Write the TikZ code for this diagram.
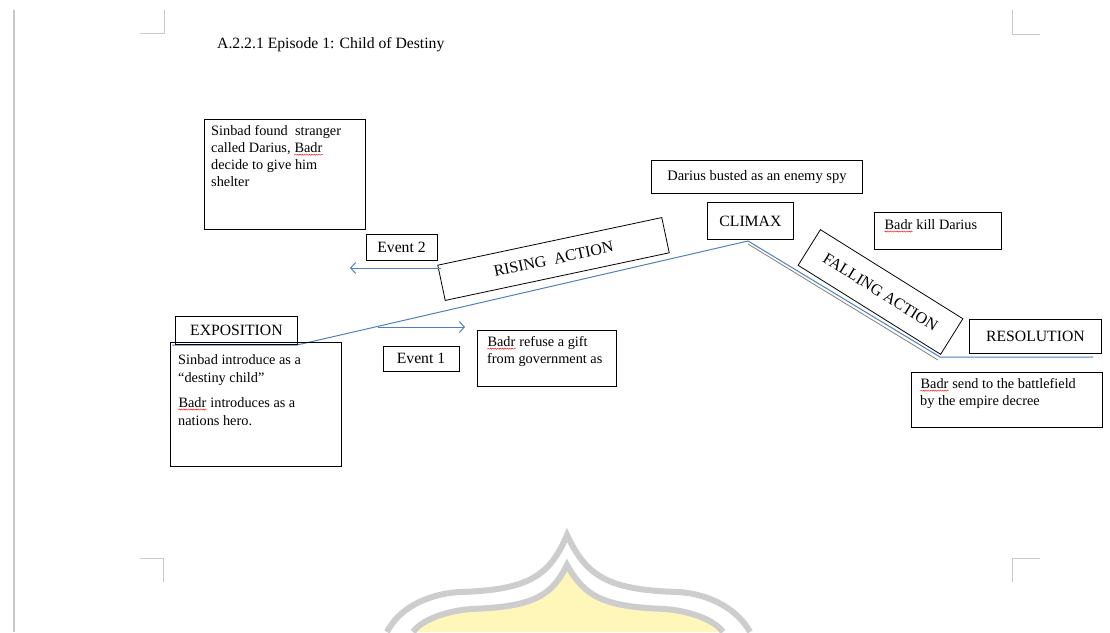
\documentclass[tikz,border=0pt]{standalone}
\usepackage{fontspec}
\setmainfont{Liberation Serif}
\usetikzlibrary{arrows.meta,decorations.pathmorphing}
\definecolor{plotblue}{RGB}{79,129,189}
\definecolor{wmgray}{RGB}{205,205,205}
\definecolor{wmyellow}{RGB}{255,246,185}
\definecolor{markgray}{RGB}{200,200,200}
\newcommand\spl[1]{\tikz[baseline=(spellw.base),x=1cm,y=1cm]{\node[inner sep=0pt,align=left](spellw){#1};\draw[red,line width=0.4pt,decorate,decoration={snake,amplitude=0.6pt,segment length=2.4pt}] ([yshift=-2.4pt]spellw.base west) -- ([yshift=-2.4pt]spellw.base east);}}
\begin{document}
\begin{tikzpicture}[x=1pt,y=-1pt,
  box/.style={draw=black, line width=0.8pt, inner sep=0pt},
  txt/.style={inner sep=0pt, align=left, font=\fontsize{14.3}{17}\selectfont},
  lbl/.style={font=\fontsize{15.7}{18}\selectfont},
  plot/.style={draw=plotblue, line width=1pt},
  evarrow/.style={draw=plotblue, line width=1pt, -{Straight Barb[length=5pt,width=11pt]}},
  pagemark/.style={draw=markgray, line width=0.8pt},
  wmline/.style={draw=wmgray, line width=6pt}]
\useasboundingbox (0,0) rectangle (1110,632);
\fill[white] (0,0) rectangle (1110,632);

% page marks
\draw[pagemark, line width=1.5pt] (14,10) -- (14,632);
\draw[pagemark] (140,33) -- (164,33) -- (164,10);
\draw[pagemark] (1012,10) -- (1012,34) -- (1040,34);
\draw[pagemark] (140,558) -- (163,558) -- (163,582);
\draw[pagemark] (1040,558) -- (1012,558) -- (1012,582);

% watermark
\fill[wmyellow] (567,565) .. controls (552,595) and (535,607) .. (470,609)
  .. controls (440,612) and (420,622) .. (413,632) -- (723,632)
  .. controls (716,622) and (696,612) .. (666,609)
  .. controls (601,607) and (584,595) .. (567,565) -- cycle;
\draw[wmline] (413,632) .. controls (420,622) and (440,612) .. (470,609)
  .. controls (535,607) and (552,595) .. (567,565)
  .. controls (584,595) and (601,607) .. (666,609)
  .. controls (696,612) and (716,622) .. (723,632);
\draw[wmline] (387,632) .. controls (398,610) and (425,594) .. (460,592)
  .. controls (530,590) and (550,575) .. (567,535)
  .. controls (586,575) and (606,590) .. (678,592)
  .. controls (711,594) and (738,610) .. (750,632);

% title
\node[anchor=west, inner sep=0pt, font=\fontsize{15.7}{18}\selectfont] (title) at (217,45) {A.2.2.1 Episode 1: Child of Destiny};

% plot line
\coordinate (p0) at (172,345);
\coordinate (p1) at (297,345);
\coordinate (peak) at (748,241);
\coordinate (p3) at (940,357);
\coordinate (p4) at (1093,357);
\draw[plot] (p0) -- (p1) -- (peak) -- (p3) -- (p4);
\draw[draw=gray, line width=0.8pt] ([shift={(0,3)}]peak) -- ([shift={(-2,3)}]p3);

% boxes
\node[box, minimum width=161, minimum height=110, anchor=north west] (sbox) at (204,119) {};
\node[txt, anchor=north west] (stxt) at ([shift={(7,6)}]sbox.north west) {Sinbad found\ \ stranger\\called Darius, \spl{Badr}\\decide to give him\\shelter};

\node[box, lbl, minimum width=71, minimum height=26] (ev2) at (401.5,247) {Event 2};
\node[box, lbl, minimum width=76, minimum height=25] (ev1) at (421,358.5) {Event 1};

\node[box, rotate=12, minimum width=229, minimum height=36, font=\fontsize{16}{18}\selectfont] (rising) at (553.5,259) {RISING\ \ ACTION};

\coordinate (e2end) at (350,268);
\draw[evarrow] (rising.west |- 0,268) -- (e2end);
\coordinate (e1start) at (378,327);
\coordinate (e1end) at (465,327);
\draw[evarrow] (e1start) -- (e1end);

\node[box, minimum width=139, minimum height=56, anchor=north west] (gbox) at (477,330) {};
\node[txt, anchor=north west] (gtxt) at ([shift={(10,6)}]gbox.north west) {\spl{Badr} refuse a gift\\from government as};

\node[box, lbl, minimum width=122, minimum height=28, anchor=north west] (expo) at (175,316) {EXPOSITION};
\node[box, minimum width=171, minimum height=124, anchor=north west] (ebox) at (170,342) {};
\node[txt, anchor=north west, font=\fontsize{14.3}{18}\selectfont] (etxt) at ([shift={(8,12)}]ebox.north west) {Sinbad introduce as a\\``destiny child''\\[7pt]\spl{Badr} introduces as a\\nations hero.};

\node[box, minimum width=211, minimum height=33, anchor=north west, font=\fontsize{14.5}{17}\selectfont] (spy) at (651,160) {Darius busted as an enemy spy};
\node[box, lbl, minimum width=86, minimum height=37, anchor=north west] (climax) at (707,202) {CLIMAX};
\node[box, minimum width=127, minimum height=37, anchor=north west] (kbox) at (874,212) {};
\node[txt, anchor=north west] (ktxt) at ([shift={(10,7)}]kbox.north west) {\spl{Badr} kill\ Darius};

\node[box, rotate=-32, minimum width=168, minimum height=42, font=\fontsize{16}{18}\selectfont] (falling) at (880.5,292) {FALLING ACTION};

\node[box, lbl, minimum width=132, minimum height=34, anchor=north west] (reso) at (969,319) {RESOLUTION};
\node[box, minimum width=191, minimum height=55, anchor=north west] (bbox) at (911,372) {};
\node[txt, anchor=north west] (btxt) at ([shift={(9,6)}]bbox.north west) {\spl{Badr} send to the battlefield\\by the empire decree};
\end{tikzpicture}
\end{document}
